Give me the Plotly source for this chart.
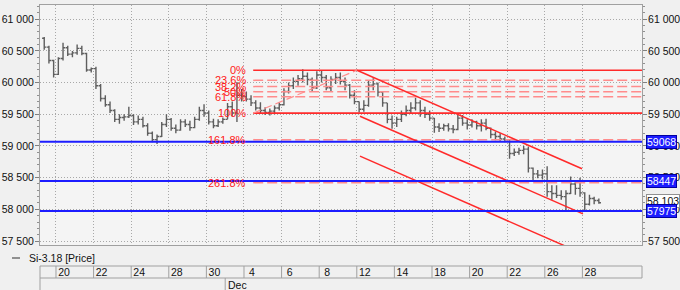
import plotly.graph_objects as go

# ---------------- data ----------------
first_bar_x = -0.625      # trading-day index of first visible bar (Nov 20 = 0)
bar_step = 0.25           # 4 bars per trading day

opens = [60700, 60560, 60350,
         60130, 60380, 60550, 60450, 60470, 60540, 60460, 60200, 60220, 59950, 59750, 59650,
         59560, 59420, 59450, 59460, 59480, 59380, 59420, 59320, 59200, 59100, 59150, 59340,
         59420, 59280, 59250, 59380, 59340, 59290, 59420, 59560, 59520, 59380, 59320, 59380,
         59420, 59620, 59520, 59800, 59780, 59740, 59680, 59600, 59560, 59530, 59550, 59600,
         59650, 59860, 59950, 60020, 60060, 60100, 60050, 59920, 60120, 60080, 59920, 60050,
         60080, 60020, 59960, 59800, 59700, 59580, 59640, 59960, 59980, 59850, 59680, 59420,
         59360, 59420, 59500, 59560, 59600, 59680, 59560, 59500, 59440, 59300, 59280, 59320,
         59270, 59260, 59440, 59360, 59330, 59380, 59320, 59360, 59280, 59180, 59150, 59110,
         59100, 58880, 58900, 58930, 58950, 58650, 58560, 58540, 58560, 58280, 58250, 58220,
         58200, 58250, 58400, 58330, 58260, 58080, 58170, 58140]
highs = [60720, 60580, 60360,
         60400, 60630, 60580, 60500, 60600, 60580, 60470, 60240, 60250, 59980, 59800, 59700,
         59580, 59500, 59500, 59620, 59500, 59480, 59460, 59360, 59230, 59180, 59380, 59500,
         59440, 59340, 59420, 59420, 59400, 59460, 59620, 59660, 59560, 59430, 59420, 59450,
         59680, 59700, 60010, 59900, 59860, 59800, 59720, 59690, 59610, 59590, 59640, 59690,
         59910, 60000, 60080, 60120, 60210, 60160, 60080, 60180, 60200, 60120, 60100, 60150,
         60160, 60080, 59980, 59880, 59700, 59720, 60040, 60070, 60000, 59860, 59680, 59480,
         59460, 59560, 59640, 59690, 59760, 59720, 59620, 59560, 59440, 59360, 59350, 59360,
         59330, 59490, 59490, 59420, 59420, 59400, 59420, 59430, 59290, 59230, 59200, 59150,
         59110, 58960, 58970, 59000, 58990, 58660, 58620, 58630, 58680, 58380, 58380, 58300,
         58300, 58520, 58460, 58500, 58270, 58230, 58200, 58170]
lows = [60520, 60300, 60080,
        60120, 60350, 60420, 60400, 60440, 60430, 60170, 60160, 59900, 59700, 59620, 59520,
        59380, 59350, 59400, 59440, 59330, 59340, 59290, 59160, 59060, 59030, 59140, 59300,
        59240, 59200, 59240, 59300, 59240, 59280, 59400, 59460, 59340, 59280, 59300, 59350,
        59420, 59470, 59380, 59700, 59700, 59630, 59560, 59510, 59490, 59480, 59500, 59560,
        59640, 59830, 59900, 59950, 60000, 59960, 59850, 59900, 60000, 59880, 59860, 59980,
        59970, 59880, 59750, 59660, 59530, 59540, 59620, 59880, 59780, 59620, 59360, 59270,
        59300, 59380, 59470, 59510, 59560, 59460, 59440, 59400, 59210, 59220, 59240, 59230,
        59200, 59250, 59320, 59260, 59290, 59260, 59230, 59250, 59120, 59090, 59070, 59060,
        58800, 58840, 58860, 58870, 58580, 58440, 58490, 58470, 58200, 58150, 58180, 58150,
        57990, 58240, 58230, 58200, 57980, 58060, 58080, 58090]
closes = [60560, 60350, 60130,
          60380, 60550, 60450, 60470, 60540, 60460, 60200, 60220, 59950, 59750, 59650, 59560,
          59420, 59450, 59460, 59480, 59380, 59420, 59320, 59200, 59100, 59150, 59340, 59420,
          59280, 59250, 59380, 59340, 59290, 59420, 59560, 59520, 59380, 59320, 59380, 59420,
          59620, 59520, 59800, 59780, 59740, 59680, 59600, 59560, 59530, 59550, 59600, 59650,
          59860, 59950, 60020, 60060, 60100, 60050, 59920, 60120, 60080, 59920, 60050, 60080,
          60020, 59960, 59800, 59700, 59580, 59640, 59960, 59980, 59850, 59680, 59420, 59360,
          59420, 59500, 59560, 59600, 59680, 59560, 59500, 59440, 59300, 59280, 59320, 59270,
          59260, 59440, 59360, 59330, 59380, 59320, 59360, 59280, 59180, 59150, 59110, 59100,
          58880, 58900, 58930, 58950, 58650, 58560, 58540, 58560, 58280, 58250, 58220, 58200,
          58250, 58400, 58330, 58260, 58080, 58170, 58140, 58103]

day_tick_idx = [0, 2, 4, 6, 8, 10, 12, 14, 16, 18, 20, 22, 24, 26, 28]
day_tick_labels = ["20", "22", "24", "28", "30", "4", "6", "8", "12", "14", "18", "20", "22", "26", "28"]
month_idx = [9]
month_labels = ["Dec"]

price_ticks = [57500, 58000, 58500, 59000, 59500, 60000, 60500, 61000]
price_tick_labels = ["57 500", "58 000", "58 500", "59 000", "59 500", "60 000", "60 500", "61 000"]

support_levels = [59068, 58447, 57975]
support_labels = ["59068", "58447", "57975"]
last_price = 58103
last_price_label = "58 103"

fib_x0 = 10.49
fib_x1 = 16.01
fib_high = 60196
fib_low = 59518
fib_ratios = [0, 0.236, 0.382, 0.5, 0.618, 1.0, 1.618, 2.618]
fib_labels = ["0%", "23.6%", "38.2%", "50%", "61.8%", "100%", "161.8%", "261.8%"]

channel_x0 = [16.01, 16.17, 16.17]
channel_x1 = [27.98, 28.03, 28.03]
channel_y0 = [60196, 59470, 58840]
channel_y1 = [58640, 57928, 57298]

series_name = "Si-3.18 [Price]"

x_range = [-0.85, 31.17]
y_range = [57437, 61225]

# ---------------- layout constants ----------------
W, H = 680, 290
ML, MR, MT, MB = 40, 38, 5, 45
PW, PH = W - ML - MR, H - MT - MB
FONT = "Liberation Sans, Arial, sans-serif"
FS = 10.5
GRID = "#a8a8a8"
FRAME = "#a0a0a0"
RED = "#ff2a2a"
LRED = "#ff8c8c"
BLUE = "#1c1cff"


def px_x(px):
    return (px - ML) / PW


def px_y(py):
    return (H - MB - py) / PH


bar_x = [first_bar_x + bar_step * i for i in range(len(opens))]

fig = go.Figure()

fig.add_trace(go.Ohlc(
    x=bar_x, open=opens, high=highs, low=lows, close=closes,
    increasing=dict(line=dict(color="#5e5e5e", width=1.4)),
    decreasing=dict(line=dict(color="#5e5e5e", width=1.4)),
    tickwidth=0.45, showlegend=False, hoverinfo="skip", name=series_name))

# Fibonacci levels
fib_prices = [fib_high - r * (fib_high - fib_low) for r in fib_ratios]
for r, p in zip(fib_ratios, fib_prices):
    solid = r in (0, 1.0)
    fig.add_trace(go.Scatter(
        x=[fib_x0, x_range[1]], y=[p, p], mode="lines",
        line=dict(color=RED if solid else LRED, width=1.6 if solid else 1.5,
                  dash="solid" if solid else "10px,4px"),
        showlegend=False, hoverinfo="skip"))
# fib trend line
fig.add_trace(go.Scatter(
    x=[fib_x0, fib_x1], y=[fib_low, fib_high], mode="lines",
    line=dict(color=LRED, width=1.2, dash="8px,4px"),
    showlegend=False, hoverinfo="skip"))

# channel
for x0, x1, y0, y1 in zip(channel_x0, channel_x1, channel_y0, channel_y1):
    fig.add_trace(go.Scatter(
        x=[x0, x1], y=[y0, y1], mode="lines",
        line=dict(color=RED, width=1.5), showlegend=False, hoverinfo="skip"))

# support lines
for lv in support_levels:
    fig.add_trace(go.Scatter(
        x=x_range, y=[lv, lv], mode="lines",
        line=dict(color=BLUE, width=2), showlegend=False, hoverinfo="skip"))

annotations = []
for lab, p in zip(fib_labels, fib_prices):
    annotations.append(dict(
        x=fib_x0, y=p, xref="x", yref="y", text=lab, showarrow=False,
        xanchor="right", yanchor="middle", xshift=-5,
        font=dict(family=FONT, size=11, color="#ff1a1a")))

annotations.append(dict(
    x=1, y=last_price, xref="paper", yref="y", text=last_price_label, showarrow=False,
    xanchor="left", yanchor="middle", xshift=4, yshift=2,
    bgcolor="white", bordercolor="#909090", borderwidth=1, borderpad=0,
    font=dict(family=FONT, size=FS, color="#111111")))

for lv, lab in zip(support_levels, support_labels):
    annotations.append(dict(
        x=1, y=lv, xref="paper", yref="y", text=lab, showarrow=False,
        xanchor="left", yanchor="middle", xshift=4,
        bgcolor=BLUE, bordercolor="#0000a0", borderwidth=1, borderpad=0,
        font=dict(family=FONT, size=FS, color="white")))

# legend
annotations.append(dict(
    x=px_x(27), y=px_y(258), xref="paper", yref="paper", text=series_name,
    showarrow=False, xanchor="left", yanchor="middle",
    font=dict(family=FONT, size=FS, color="#111111")))

# month labels
for mi, ml in zip(month_idx, month_labels):
    annotations.append(dict(
        x=mi, y=px_y(284.5), xref="x", yref="paper", text=ml, showarrow=False,
        xanchor="left", yanchor="middle", xshift=1,
        font=dict(family=FONT, size=FS, color="#111111")))

shapes = []
# legend line symbol
shapes.append(dict(type="line", xref="paper", yref="paper",
                   x0=px_x(12), x1=px_x(20), y0=px_y(258), y1=px_y(258),
                   line=dict(color="#707070", width=1.5)))
# date ribbon
for yy in (266, 278):
    shapes.append(dict(type="line", xref="paper", yref="paper",
                       x0=0, x1=1, y0=px_y(yy), y1=px_y(yy),
                       line=dict(color=FRAME, width=1)))
shapes.append(dict(type="line", xref="paper", yref="paper",
                   x0=0, x1=0, y0=px_y(266), y1=px_y(290),
                   line=dict(color=FRAME, width=1)))
shapes.append(dict(type="line", xref="paper", yref="paper",
                   x0=1, x1=1, y0=px_y(266), y1=px_y(278),
                   line=dict(color=FRAME, width=1)))
for t in day_tick_idx:
    shapes.append(dict(type="line", xref="x", yref="paper",
                       x0=t, x1=t, y0=px_y(266), y1=px_y(278),
                       line=dict(color=FRAME, width=1)))
for mi in month_idx:
    shapes.append(dict(type="line", xref="x", yref="paper",
                       x0=mi, x1=mi, y0=px_y(278), y1=px_y(290),
                       line=dict(color=FRAME, width=1)))

yaxis_common = dict(
    range=y_range, tickmode="array", tickvals=price_ticks, ticktext=price_tick_labels,
    ticks="outside", ticklen=4, tickcolor="#808080", ticklabelstandoff=-1,
    tickfont=dict(family=FONT, size=FS, color="#111111"),
    showline=True, linecolor=FRAME, linewidth=1, zeroline=False,
    minor=dict(dtick=100, tick0=57500, ticks="outside", ticklen=2, tickcolor="#909090", showgrid=False),
    fixedrange=True, automargin=False)

fig.update_layout(
    width=W, height=H, margin=dict(l=ML, r=MR, t=MT, b=MB, autoexpand=False),
    paper_bgcolor="#f0f0f0", plot_bgcolor="#f4f4f4",
    showlegend=False,
    xaxis=dict(range=x_range, tickmode="array", tickvals=day_tick_idx, ticktext=day_tick_labels,
               ticks="", showgrid=True, gridcolor=GRID, griddash="1px,2px", gridwidth=1,
               showline=True, linecolor=FRAME, mirror=True, zeroline=False,
               ticklabelstandoff=17, ticklabelshift=8, automargin=False,
               tickfont=dict(family=FONT, size=FS, color="#111111"),
               rangeslider=dict(visible=False), fixedrange=True),
    yaxis=dict(**yaxis_common, side="left", showgrid=True, gridcolor=GRID,
               griddash="1px,2px", gridwidth=1),
    yaxis2=dict(**yaxis_common, side="right", overlaying="y", showgrid=False),
    annotations=annotations, shapes=shapes,
)

# invisible trace to anchor the right axis
fig.add_trace(go.Scatter(x=[x_range[0]], y=[y_range[0]], yaxis="y2", mode="markers",
                         marker=dict(opacity=0), showlegend=False, hoverinfo="skip"))

fig.write_html("out.html")
